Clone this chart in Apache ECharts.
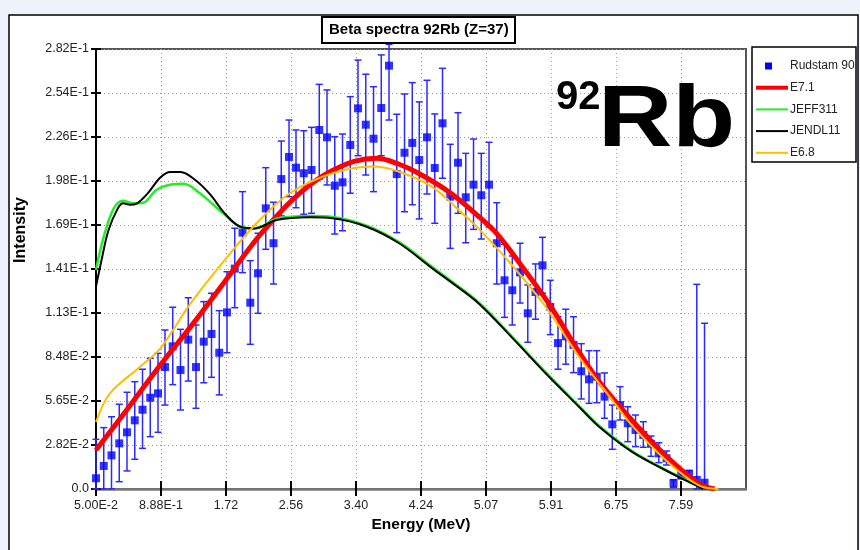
<!DOCTYPE html>
<html>
<head>
<meta charset="utf-8">
<title>Beta spectra 92Rb</title>
<script src="https://cdn.jsdelivr.net/npm/echarts@6/dist/echarts.min.js"></script>
<style>
  html, body { margin: 0; padding: 0; background: #eef2fb; }
  #chart { width: 860px; height: 550px; }
</style>
</head>
<body>
<div id="chart"></div>
<script>
// tick labels as printed on the original plot
const xTickLabels = ['5.00E-2', '8.88E-1', '1.72', '2.56', '3.40', '4.24', '5.07', '5.91', '6.75', '7.59'];
const yTickLabels = ['0.0', '2.82E-2', '5.65E-2', '8.48E-2', '1.13E-1', '1.41E-1', '1.69E-1', '1.98E-1', '2.26E-1', '2.54E-1', '2.82E-1'];

// Rudstam 90 measurement (energy MeV, intensity, error bar low / high)
const energies = [
  0.05, 0.15, 0.25, 0.35, 0.45, 0.55, 0.65, 0.75, 0.85, 0.94,
  1.04, 1.14, 1.24, 1.34, 1.44, 1.54, 1.64, 1.74, 1.84, 1.94,
  2.04, 2.14, 2.24, 2.34, 2.44, 2.54, 2.63, 2.73, 2.83, 2.93,
  3.03, 3.13, 3.23, 3.33, 3.43, 3.53, 3.63, 3.73, 3.83, 3.93,
  4.03, 4.13, 4.22, 4.32, 4.42, 4.52, 4.62, 4.72, 4.82, 4.92,
  5.02, 5.12, 5.22, 5.32, 5.42, 5.52, 5.62, 5.72, 5.81, 5.91,
  6.01, 6.11, 6.21, 6.31, 6.41, 6.51, 6.61, 6.71, 6.81, 6.91,
  7.01, 7.11, 7.21, 7.31, 7.41, 7.50, 7.60, 7.70, 7.80, 7.90
];
const rudstam = [
  0.0069, 0.0148, 0.0216, 0.0293, 0.0364, 0.0441, 0.0509, 0.0586, 0.0614, 0.0783,
  0.0916, 0.0764, 0.0959, 0.0783, 0.0946, 0.0995, 0.0875, 0.1134, 0.1415, 0.1646,
  0.1196, 0.1385, 0.1802, 0.1578, 0.1990, 0.2132, 0.2063, 0.2027, 0.2048, 0.2305,
  0.2258, 0.1947, 0.1969, 0.2209, 0.2444, 0.2339, 0.2249, 0.2446, 0.2718, 0.2022,
  0.2159, 0.2222, 0.2112, 0.2258, 0.2061, 0.2348, 0.1877, 0.2095, 0.1873, 0.1954,
  0.1886, 0.1954, 0.1578, 0.1340, 0.1276, 0.1391, 0.1128, 0.1265, 0.1436, 0.1169,
  0.0937, 0.0980, 0.0925, 0.0756, 0.0704, 0.0721, 0.0593, 0.0415, 0.0539, 0.0422,
  0.0379, 0.0347, 0.0290, 0.0229, 0.0197, 0.0037, 0.0090, 0.0096, 0.0058, 0.0040
];
const errLow = [
  0, 0, 0, 0.0047, 0.0116, 0.0191, 0.0261, 0.0336, 0.0364, 0.0539,
  0.0670, 0.0507, 0.0693, 0.0518, 0.0682, 0.0717, 0.0604, 0.0875, 0.1164, 0.1389,
  0.0929, 0.1128, 0.1539, 0.1316, 0.1753, 0.1877, 0.1806, 0.1764, 0.1770, 0.1990,
  0.1952, 0.1637, 0.1658, 0.1899, 0.2140, 0.2016, 0.1909, 0.2140, 0.2369, 0.1646,
  0.1780, 0.1825, 0.1734, 0.1894, 0.1706, 0.1995, 0.1545, 0.1770, 0.1581, 0.1667,
  0.1605, 0.1682, 0.1316, 0.1102, 0.1053, 0.1194, 0.0942, 0.1090, 0.1257, 0.0991,
  0.0769, 0.0801, 0.0747, 0.0578, 0.0550, 0.0554, 0.0454, 0.0255, 0.0443, 0.0304,
  0.0272, 0.0268, 0.0210, 0.0169, 0.0154, 0.0010, 0.0065, 0.0070, 0, 0
];
const errHigh = [
  0.0319, 0.0394, 0.0464, 0.0544, 0.0621, 0.0689, 0.0769, 0.0839, 0.0871, 0.1021,
  0.1167, 0.1025, 0.1228, 0.1053, 0.1203, 0.1257, 0.1145, 0.1395, 0.1674, 0.1909,
  0.1466, 0.1642, 0.2063, 0.1841, 0.2234, 0.2369, 0.2305, 0.2300, 0.2322, 0.2598,
  0.2562, 0.2262, 0.2279, 0.2519, 0.2754, 0.2663, 0.2583, 0.2787, 0.2855, 0.2406,
  0.2536, 0.2609, 0.2485, 0.2624, 0.2408, 0.2701, 0.2213, 0.2416, 0.2155, 0.2247,
  0.2155, 0.2226, 0.1838, 0.1571, 0.1496, 0.1578, 0.1310, 0.1445, 0.1616, 0.1340,
  0.1106, 0.1154, 0.1106, 0.0933, 0.0888, 0.0888, 0.0745, 0.0539, 0.0657, 0.0528,
  0.0475, 0.0432, 0.0340, 0.0297, 0.0244, 0.0060, 0.0115, 0.0120, 0.1314, 0.1064
];

// calculated spectra
const e71E = [0.05, 0.45, 0.88, 1.30, 1.71, 2.13, 2.49, 2.68, 2.87, 3.10, 3.39, 3.67, 3.96, 4.21, 4.61, 4.99, 5.22, 5.42, 5.89, 6.28, 6.54, 6.96, 7.39, 7.82, 8.03];
const e71V = [0.025, 0.051, 0.0796, 0.106, 0.1331, 0.161, 0.181, 0.190, 0.1975, 0.2045, 0.2105, 0.2123, 0.2085, 0.2027, 0.1905, 0.1748, 0.164, 0.1513, 0.1192, 0.088, 0.069, 0.0443, 0.0218, 0.0037, 0];

const jeffE = [0.05, 0.15, 0.28, 0.40, 0.53, 0.66, 0.83, 1.02, 1.18, 1.39, 1.69, 1.91, 2.10, 2.38, 2.81, 3.10, 3.54, 3.96, 4.38, 4.64, 4.99, 5.42, 5.85, 6.28, 6.54, 6.96, 7.39, 7.82, 7.88];
const jeffV = [0.1406, 0.162, 0.1802, 0.1851, 0.1834, 0.1838, 0.192, 0.1955, 0.196, 0.1899, 0.177, 0.1684, 0.1673, 0.1735, 0.1752, 0.1746, 0.1691, 0.1585, 0.1428, 0.1332, 0.1197, 0.0977, 0.0750, 0.0534, 0.0406, 0.0246, 0.0126, 0.0018, 0];

const jendlE = [0.05, 0.13, 0.21, 0.33, 0.40, 0.49, 0.58, 0.72, 0.88, 1.01, 1.14, 1.33, 1.52, 1.71, 1.91, 2.10, 2.38, 2.81, 3.10, 3.54, 3.96, 4.38, 4.64, 4.99, 5.42, 5.85, 6.28, 6.54, 6.96, 7.39, 7.82, 7.88];
const jendlV = [0.130, 0.149, 0.166, 0.180, 0.1834, 0.1825, 0.1834, 0.190, 0.200, 0.2035, 0.2035, 0.1984, 0.1893, 0.177, 0.1684, 0.1673, 0.1727, 0.1744, 0.1738, 0.1684, 0.1578, 0.142, 0.1325, 0.119, 0.097, 0.0743, 0.0528, 0.040, 0.024, 0.0122, 0.0015, 0];

const e68E = [0.05, 0.23, 0.62, 0.88, 1.27, 1.71, 2.12, 2.55, 3.10, 3.62, 3.96, 4.38, 4.81, 4.99, 5.42, 5.85, 6.28, 6.71, 6.96, 7.39, 7.82, 8.08];
const e68V = [0.043, 0.0614, 0.0785, 0.0903, 0.1192, 0.147, 0.1706, 0.1899, 0.2027, 0.207, 0.2037, 0.1941, 0.1755, 0.167, 0.1435, 0.117, 0.0849, 0.0571, 0.041, 0.019, 0.0025, 0];

const seriesNames = ['Rudstam 90', 'E7.1', 'JEFF311', 'JENDL11', 'E6.8'];
const lineColors = ['#0000ff', '#ff0000', '#22ee22', '#000000', '#ffbf00'];
const lineWidths = [0, 5, 2.5, 2, 2];

const FONT = "'Liberation Sans', Arial, sans-serif";
const X_MIN = 0.05, X_STEP = 0.8385, X_MAX = 8.435;
const Y_MAX = 0.2825, Y_STEP = 0.02825;

const chart = echarts.init(document.getElementById('chart'));

function pairs(xs, ys) {
  return xs.map((x, i) => [x, ys[i]]);
}

// vertical error bar with small caps
function renderErrorBar(params, api) {
  const x = api.value(0);
  const lo = api.coord([x, api.value(1)]);
  const hi = api.coord([x, api.value(2)]);
  const cap = 3.5;
  const style = { stroke: '#2a2aff', lineWidth: 1.5 };
  return {
    type: 'group',
    children: [
      { type: 'line', shape: { x1: lo[0], y1: lo[1], x2: hi[0], y2: hi[1] }, style: style },
      { type: 'line', shape: { x1: hi[0] - cap, y1: hi[1], x2: hi[0] + cap, y2: hi[1] }, style: style },
      { type: 'line', shape: { x1: lo[0] - cap, y1: lo[1], x2: lo[0] + cap, y2: lo[1] }, style: style }
    ]
  };
}

function lineSeries(idx, data) {
  return {
    name: seriesNames[idx],
    type: 'line',
    data: data,
    smooth: 0.35,
    showSymbol: false,
    symbol: 'none',
    lineStyle: { color: lineColors[idx], width: lineWidths[idx] },
    itemStyle: { color: lineColors[idx] },
    z: 3 + idx
  };
}

// legend drawn as graphic so the marker sizes follow the original
const legendItems = [];
const legendTop = 66, legendStep = 21.7;
seriesNames.forEach((name, i) => {
  const cy = legendTop + i * legendStep;
  if (i === 0) {
    legendItems.push({ type: 'rect', shape: { x: 765, y: cy - 3.5, width: 7, height: 7 }, style: { fill: lineColors[0] }, z: 20 });
  } else {
    legendItems.push({ type: 'line', shape: { x1: 756, y1: cy, x2: 788, y2: cy }, style: { stroke: lineColors[i], lineWidth: i === 1 ? 4 : 2 }, z: 20 });
  }
  legendItems.push({
    type: 'text', x: 790, y: cy, z: 20,
    style: { text: name, fill: '#222', font: '12px ' + FONT, verticalAlign: 'middle', align: 'left' }
  });
});

const xCommon = { type: 'value', min: X_MIN, max: X_MAX, interval: X_STEP };
const yCommon = { type: 'value', min: 0, max: Y_MAX, interval: Y_STEP };
// ticks only where the original prints a label (no tick at the right end)
const xTickValues = xTickLabels.map((_, i) => X_MIN + i * X_STEP);

const option = {
  backgroundColor: '#eef2fb',
  animation: false,
  title: {
    text: 'Beta spectra 92Rb (Z=37)',
    left: 322,
    top: 17,
    padding: [4, 7],
    borderColor: '#000',
    borderWidth: 2,
    backgroundColor: '#fff',
    textStyle: { fontFamily: FONT, fontSize: 15, fontWeight: 'bold', color: '#000', lineHeight: 18 }
  },
  grid: {
    left: 96, top: 49, width: 650, height: 440,
    show: true, borderColor: '#555', borderWidth: 2, backgroundColor: 'transparent'
  },
  xAxis: [
    Object.assign({}, xCommon, {
      position: 'bottom',
      name: 'Energy (MeV)',
      nameLocation: 'middle',
      nameGap: 27,
      nameTextStyle: { fontFamily: FONT, fontSize: 15.5, fontWeight: 'bold', color: '#000' },
      axisLine: { onZero: false, lineStyle: { color: '#7a7a7a', width: 2.5 } },
      axisTick: { inside: false, length: 7, customValues: xTickValues, lineStyle: { color: '#000', width: 2 } },
      axisLabel: {
        margin: 10, color: '#222', fontFamily: FONT, fontSize: 12.5, interval: 0,
        formatter: (v, i) => xTickLabels[i] || ''
      },
      splitLine: { show: true, lineStyle: { color: '#9a9a9a', type: [1, 3], width: 1 } }
    }),
    // inner half of the crossing ticks
    Object.assign({}, xCommon, {
      position: 'top',
      offset: -440,
      axisLine: { show: false, onZero: false },
      axisTick: { inside: false, length: 8, customValues: xTickValues, lineStyle: { color: '#000', width: 2 } },
      axisLabel: { show: false },
      splitLine: { show: false }
    })
  ],
  yAxis: [
    Object.assign({}, yCommon, {
      position: 'left',
      axisLine: { onZero: false, lineStyle: { color: '#000', width: 2 } },
      axisTick: { inside: false, length: 5, lineStyle: { color: '#000', width: 2 } },
      axisLabel: {
        margin: 7, color: '#222', fontFamily: FONT, fontSize: 12.5, interval: 0,
        formatter: (v, i) => yTickLabels[i] || ''
      },
      splitLine: { show: true, lineStyle: { color: '#9a9a9a', type: [1, 3], width: 1 } }
    }),
    Object.assign({}, yCommon, {
      position: 'right',
      offset: -650,
      axisLine: { show: false, onZero: false },
      axisTick: { inside: false, length: 5, lineStyle: { color: '#000', width: 2 } },
      axisLabel: { show: false },
      splitLine: { show: false }
    })
  ],
  graphic: [
    { type: 'rect', x: 9, y: 15, shape: { width: 849, height: 545 }, style: { fill: '#fff', stroke: '#000', lineWidth: 1.5 }, z: -100 },
    { type: 'rect', x: 752, y: 47, shape: { width: 104, height: 115 }, style: { fill: '#fff', stroke: '#000', lineWidth: 1.5 }, z: 19 },
    ...legendItems,
    {
      type: 'text', x: 556, y: 98, z: 20,
      style: { text: '92', fill: '#000', font: 'bold 40px ' + FONT, verticalAlign: 'middle' }
    },
    {
      type: 'text', x: 598, y: 122, scaleX: 1.17, z: 20,
      style: { text: 'Rb', fill: '#000', font: 'bold 88px ' + FONT, verticalAlign: 'middle' }
    },
    {
      type: 'text', x: 21, y: 230, rotation: Math.PI / 2, z: 20,
      style: { text: 'Intensity', fill: '#000', font: 'bold 16px ' + FONT, align: 'center', verticalAlign: 'middle' }
    }
  ],
  series: [
    {
      name: 'Rudstam 90 error',
      type: 'custom',
      renderItem: renderErrorBar,
      encode: { x: 0, y: [1, 2] },
      clip: false,
      data: energies.map((e, i) => [e, errLow[i], errHigh[i]]),
      z: 1
    },
    {
      name: seriesNames[0],
      type: 'scatter',
      symbol: 'rect',
      symbolSize: 8,
      itemStyle: { color: lineColors[0] },
      data: pairs(energies, rudstam),
      z: 2
    },
    lineSeries(1, pairs(e71E, e71V)),
    lineSeries(2, pairs(jeffE, jeffV)),
    lineSeries(3, pairs(jendlE, jendlV)),
    lineSeries(4, pairs(e68E, e68V))
  ]
};

chart.setOption(option);
</script>
</body>
</html>
